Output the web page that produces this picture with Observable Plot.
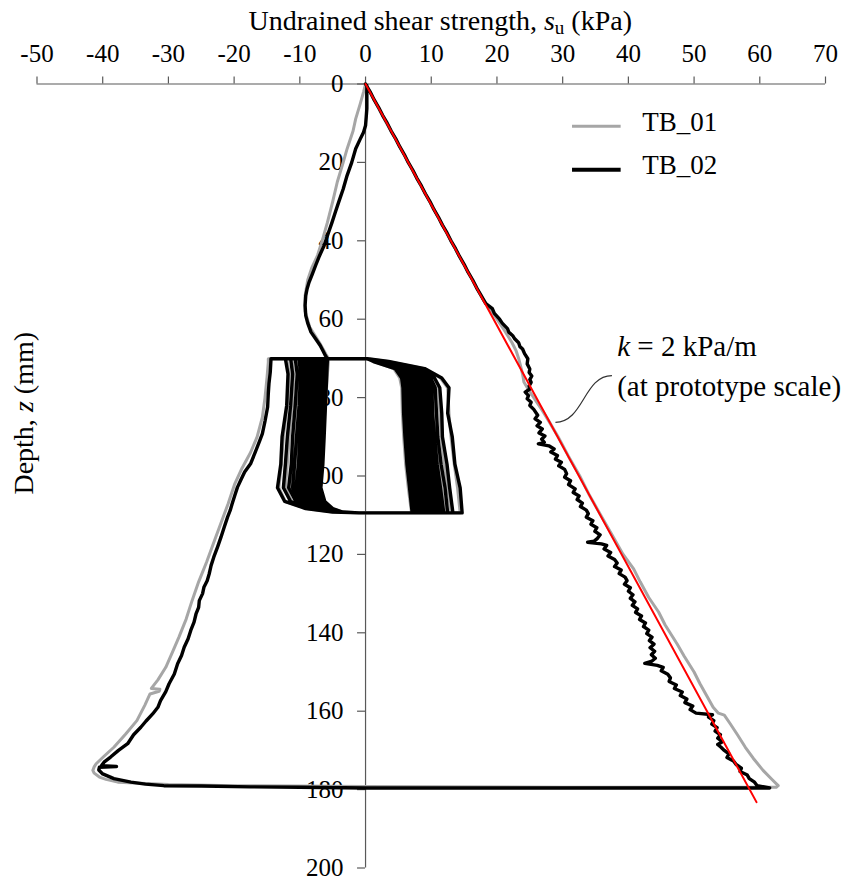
<!DOCTYPE html>
<html>
<head>
<meta charset="utf-8">
<script src="https://cdn.jsdelivr.net/npm/d3@7"></script>
<script src="https://cdn.jsdelivr.net/npm/@observablehq/plot@0.6"></script>
<style>
  html, body { margin: 0; padding: 0; background: #fff; }
  #chart svg { display: block; overflow: visible; }
  #chart svg text { font-family: "Liberation Serif", "Times New Roman", serif; }
</style>
</head>
<body>
<div id="chart"></div>
<script>
// Axis ticks
const xTicks = [-50, -40, -30, -20, -10, 0, 10, 20, 30, 40, 50, 60, 70];
const yTicks = [0, 20, 40, 60, 80, 100, 120, 140, 160, 180, 200];

// Series names
const seriesNames = ["TB_01", "TB_02"];

// Reference strength line, k = 2 kPa/m at prototype scale: [depth (mm), su (kPa)]
const referenceLine = [[0, 0], [183.2, 59.5]];

// TB_02: initial penetration [depth, su]
const tb02Penetration = [
  [0,0],[2,0.7],[4,1.3],[6,2.0],[8,2.6],[10,3.3],[12,3.9],[14,4.6],[16,5.2],[18,5.9],[20,6.5],
  [22,7.2],[24,7.8],[26,8.5],[28,9.1],[30,9.8],[32,10.4],[34,11.1],[36,11.7],[38,12.4],[40,13.0],
  [42,13.7],[44,14.3],[46,15.0],[48,15.6],[50,16.3],[52,16.9],[54,17.6],[56,18.3],[57.3,19.3],
  [58.5,19.6],[60,20.4],[61,20.8],[62.4,21.6],[63.3,21.8],[64.2,22.4],[65,22.7],[66,23.3],[67,23.5],
  [67.6,23.9],[68.8,24.2],[70.1,24.7],[71.4,24.6],[72.7,25.0],[73.6,24.9],[74.5,25.3],[75.4,25.0],
  [76.1,25.2],[77,24.9],[77.8,25.0],[78.6,24.3],[79.5,24.8],[80.3,24.6],[81.2,25.2],[82,25.0],
  [83,25.6],[84.5,26.2],[85.4,25.8],[86.3,26.6],[87.2,26.1],[88,26.9],[89,26.4],[89.8,27.3],
  [90.6,26.8],[91.4,27.2],[91.8,26.3],[92.3,27.9],[93.1,28.7],[93.9,28.2],[94.8,29.2],[95.7,28.9],
  [96.5,29.8],[97.4,29.4],[98.3,30.3],[99.4,30.6],[100.3,30.3],[101.2,31.2],[102.2,30.9],[103.3,31.9],
  [104.2,31.6],[105.1,32.5],[106,32.2],[106.9,33.0],[107.8,32.7],[108.7,33.6],[109.6,33.9],[110.5,33.6],
  [111.4,34.6],[112.3,34.3],[113.2,35.2],[114.1,34.9],[115,35.7],[115.9,35.3],[116.6,34.8],[116.9,33.8],
  [117.3,35.9],[117.7,36.7],[118.6,36.3],[119.5,37.3],[120.4,36.9],[121.3,37.9],[122.2,38.3],[123.1,37.9],
  [124,38.9],[124.9,38.6],[125.8,39.5],[126.7,39.8],[127.6,39.4],[128.5,40.3],[129.4,40.0],[130.3,40.7],
  [131.2,40.3],[132.1,41.0],[133,40.6],[133.9,41.4],[134.8,41.1],[135.7,42.0],[136.6,41.7],[137.5,42.6],
  [138.4,42.3],[139.3,43.1],[140.2,42.8],[141.1,43.6],[142,43.2],[142.9,43.9],[143.8,43.3],[144.7,44.0],
  [145.6,43.5],[146.5,44.1],[147.2,43.6],[147.8,42.5],[148.3,44.4],[148.8,45.3],[149.7,45.0],[150.6,46.0],
  [151.5,46.4],[152.4,46.2],[153.3,47.3],[154.2,47.0],[155.1,48.2],[156,47.9],[156.9,48.9],[157.8,48.6],
  [158.7,49.8],[159.6,49.4],[160.5,50.3],[160.9,52.8],[161.5,52.2],[162.4,53.0],[163.3,52.7],[164.2,53.5],
  [165.1,53.2],[166,54.0],[166.9,53.6],[167.8,54.3],[168.5,53.6],[169.2,54.1],[170,54.6],[170.9,55.3],
  [171.8,55.0],[172.7,56.0],[173.6,56.4],[174.5,57.2],[175.4,57.0],[176.3,58.1],[177.2,58.4],[178.1,59.2],
  [179,59.6],[179.6,61.5]
];

// TB_02: extraction from the tip back up to the top of the cyclic zone
const tb02Extraction = [
  [179.6,40],[179.6,20],[179.6,0],[179.4,-10],[179.3,-17.5],[179.1,-25],[179.0,-30.7],[178.6,-33.5],
  [178.1,-35.7],[177.2,-38.3],[176.0,-40.0],[175.0,-40.6],[174.3,-40.5],[174.1,-37.9],[173.9,-40.2],
  [173,-39.8],[171.7,-38.8],[170,-37.6],[168.3,-36.2],[166,-35.3],[164.1,-34.2],[162.5,-33.4],[160.7,-32.4],
  [159,-31.6],[157.3,-31.2],[155,-30.4],[153,-29.9],[150.5,-29.1],[147.9,-28.6],[145.8,-28.0],[143.7,-27.6],
  [141.5,-27.0],[139.4,-26.6],[137.3,-26.1],[135.2,-25.8],[133.5,-25.4],[131.8,-25.3],[130,-24.8],
  [128.4,-24.6],[126.7,-24.1],[125,-23.8],[122.8,-23.5],[120.7,-23.1],[118,-22.5],[115.6,-22.0],[113,-21.5],
  [110.5,-21.0],[108.8,-20.6],[107.1,-20.3],[105,-19.9],[102.9,-19.5],[101.1,-19.0],[99,-18.4],[96.9,-17.5],
  [94,-16.8],[91,-16.1],[89.2,-15.7],[86,-15.3],[82.4,-14.9],[79,-14.8],[76.5,-14.7],[73.5,-14.5],
  [70.5,-14.4],[70.1,-14.4]
];

// Depth stations of each cyclic stroke (mm)
const downDepths = [70.1, 70.8, 72.6, 75.0, 77.5, 84.0, 90.0, 97.0, 103.0, 109.4];
const upDepths = [109.4, 109.2, 108.3, 106.5, 103.0, 97.0, 90.0, 82.0, 74.0, 70.1];

// TB_02 cycles: su (kPa) at the stations above, [down stroke, up stroke]
const tb02Cycles = [
  [[0.3, 3.5, 9.0, 11.6, 12.7, 12.5, 13.2, 13.6, 14.4, 14.7], [-1.0, -5.0, -9.1, -12.3, -13.4, -12.9, -12.7, -12.0, -11.8, -12.2]],
  [[0.3, 3.2, 8.2, 10.5, 11.3, 11.6, 11.7, 12.4, 12.8, 13.3], [-1.0, -4.8, -8.7, -11.4, -12.5, -12.2, -11.9, -11.4, -11.1, -11.4]],
  [[0.3, 3.0, 7.8, 9.9, 10.6, 10.8, 11.0, 11.5, 12.1, 12.5], [-1.0, -4.6, -8.3, -10.6, -11.7, -11.3, -11.1, -10.7, -10.4, -10.7]],
  [[0.3, 2.8, 7.4, 9.4, 10.1, 10.2, 10.5, 10.9, 11.4, 11.9], [-1.0, -4.5, -8.0, -10.1, -11.1, -10.8, -10.5, -10.1, -9.9, -10.1]],
  [[0.3, 2.7, 7.1, 9.0, 9.6, 9.8, 10.0, 10.5, 10.9, 11.4], [-1.0, -4.4, -7.7, -9.6, -10.6, -10.2, -10.0, -9.6, -9.4, -9.6]],
  [[0.3, 2.6, 6.8, 8.6, 9.2, 9.3, 9.6, 10.0, 10.4, 10.9], [-1.0, -4.3, -7.4, -9.2, -10.1, -9.8, -9.5, -9.2, -9.0, -9.2]],
  [[0.3, 2.5, 6.6, 8.3, 8.8, 9.0, 9.2, 9.6, 10.0, 10.5], [-1.0, -4.2, -7.2, -8.8, -9.7, -9.3, -9.1, -8.8, -8.6, -8.8]],
  [[0.3, 2.4, 6.3, 8.0, 8.5, 8.6, 8.9, 9.3, 9.7, 10.2], [-1.0, -4.1, -7.0, -8.5, -9.4, -9.0, -8.8, -8.5, -8.3, -8.5]],
  [[0.3, 2.3, 6.1, 7.7, 8.2, 8.3, 8.5, 8.9, 9.3, 9.8], [-1.0, -4.0, -6.8, -8.2, -9.1, -8.7, -8.5, -8.2, -8.0, -8.2]],
  [[0.3, 2.2, 5.9, 7.4, 7.9, 8.0, 8.2, 8.6, 9.0, 9.5], [-1.0, -3.9, -6.6, -7.9, -8.8, -8.4, -8.2, -7.9, -7.7, -7.9]],
  [[0.3, 2.1, 5.7, 7.1, 7.6, 7.7, 7.9, 8.3, 8.7, 9.2], [-1.0, -3.8, -6.4, -7.7, -8.6, -8.2, -8.0, -7.7, -7.5, -7.6]],
  [[0.3, 2.0, 5.5, 6.9, 7.3, 7.4, 7.6, 8.0, 8.4, 8.9], [-1.0, -3.8, -6.2, -7.5, -8.3, -7.9, -7.7, -7.4, -7.2, -7.3]],
  [[0.3, 1.9, 5.3, 6.6, 7.0, 7.1, 7.3, 7.7, 8.1, 8.6], [-1.0, -3.7, -6.0, -7.3, -8.1, -7.7, -7.5, -7.2, -7.0, -7.1]],
  [[0.3, 1.8, 5.2, 6.4, 6.8, 6.9, 7.1, 7.5, 7.9, 8.4], [-1.0, -3.7, -5.9, -7.1, -7.9, -7.5, -7.3, -7.0, -6.8, -6.9]],
  [[0.3, 1.7, 5.0, 6.2, 6.6, 6.7, 6.9, 7.2, 7.6, 8.1], [-1.0, -3.6, -5.7, -6.9, -7.7, -7.3, -7.1, -6.8, -6.6, -6.7]],
  [[0.3, 1.6, 4.9, 6.0, 6.4, 6.5, 6.7, 7.0, 7.4, 7.9], [-1.0, -3.6, -5.6, -6.8, -7.5, -7.1, -6.9, -6.6, -6.4, -6.5]],
  [[0.3, 1.5, 4.8, 5.8, 6.2, 6.3, 6.5, 6.8, 7.2, 7.6], [-1.0, -3.5, -5.4, -6.6, -7.3, -7.0, -6.8, -6.4, -6.2, -6.3]],
  [[0.3, 1.4, 4.7, 5.7, 6.0, 6.1, 6.3, 6.6, 7.0, 7.4], [-1.0, -3.5, -5.3, -6.5, -7.1, -6.8, -6.6, -6.3, -6.1, -6.1]],
  [[0.3, 1.3, 4.6, 5.6, 5.8, 6.0, 6.2, 6.4, 6.8, 7.2], [-1.0, -3.5, -5.2, -6.3, -7.0, -6.7, -6.5, -6.2, -6.0, -6.0]],
  [[0.3, 1.2, 4.5, 5.5, 5.7, 5.8, 6.0, 6.3, 6.7, 7.1], [-1.0, -3.5, -5.0, -6.2, -6.8, -6.5, -6.3, -6.1, -5.9, -5.8]]
];

// TB_02: final extraction to the surface
const tb02Final = [
  [69.3,-6.1],[68,-6.5],[66.7,-6.9],[65,-7.6],[63.3,-8.3],[61,-8.8],[59.1,-9.1],[56.5,-9.2],[54,-9.1],
  [52.3,-8.9],[50.6,-8.6],[48.5,-8.1],[46.3,-7.6],[43.8,-7.0],[41.2,-6.3],[38.2,-5.7],[35.3,-5.1],
  [32.7,-4.6],[30.2,-4.1],[26.8,-3.4],[23.3,-2.8],[20,-2.1],[16.5,-1.5],[14,-0.8],[12.3,-0.3],
  [10.6,0.0],[8.5,0.1],[6.3,0.2],[3,0.2],[0.4,0.2]
];

// TB_01: initial penetration
const tb01Penetration = [
  [0,0],[5,1.6],[10,3.2],[15,4.9],[20,6.5],[25,8.1],[30,9.8],[35,11.4],[40,13.0],[45,14.6],[50,16.3],
  [55,17.9],[58,19.2],[60,20.0],[63,21.2],[66,22.3],[68,22.9],[70,23.3],[72,23.6],[74,23.9],[76,24.1],
  [78,24.8],[80,25.6],[83,26.8],[86,27.9],[90,29.3],[95,30.9],[100,32.6],[105,34.1],[110,35.8],
  [115,37.5],[120,39.2],[123.7,40.8],[127,41.8],[131,43.1],[134.7,44.6],[138,45.6],[142.8,47.4],
  [146,48.5],[150,50.0],[153,50.9],[156,51.9],[159,52.9],[160.5,53.7],[161,54.6],[163.2,55.5],
  [166,56.6],[169.2,57.8],[172,59.0],[175.1,60.5],[177.5,61.9],[179,62.8],[179.4,62.5]
];

// TB_01: extraction from the tip to the top of the cyclic zone
const tb01Extraction = [
  [179.4,30],[179.2,0],[179,-20],[178.7,-30],[178.1,-37.7],[177.4,-39.5],[176.8,-40.5],[175.8,-41.3],
  [175.1,-41.5],[174.2,-41.3],[173.4,-41.0],[171.5,-39.8],[169.2,-38.3],[165.8,-36.5],[162.4,-34.8],
  [158.5,-33.6],[155.6,-32.8],[154.9,-31.4],[154.4,-31.3],[154.2,-32.6],[152,-31.6],[148.8,-30.4],
  [145,-29.4],[141.1,-28.4],[136.5,-27.3],[131.8,-26.4],[127,-25.4],[122,-24.2],[116.5,-23.0],
  [112,-22.0],[107,-20.9],[102,-19.9],[98,-18.8],[94,-17.5],[90,-16.5],[85,-15.7],[80,-15.3],
  [75,-15.0],[71,-14.8],[70.1,-14.8]
];

// TB_01 cycles: su (kPa) at the stations, [down stroke, up stroke]
const tb01Cycles = [
  [[0.3, 3.4, 8.8, 11.4, 12.5, 12.7, 13.0, 13.5, 14.0, 14.4], [-1.0, -5.0, -9.0, -12.2, -13.2, -12.8, -12.5, -11.9, -11.6, -12.0]],
  [[0.3, 3.1, 8.0, 10.3, 11.1, 11.3, 11.5, 12.0, 12.5, 13.0], [-1.0, -4.8, -8.6, -11.2, -12.2, -11.9, -11.6, -11.1, -10.9, -11.2]],
  [[0.3, 2.9, 7.5, 9.6, 10.3, 10.5, 10.7, 11.2, 11.6, 12.1], [-1.0, -4.6, -8.1, -10.4, -11.4, -11.0, -10.8, -10.4, -10.1, -10.4]],
  [[0.3, 2.7, 7.1, 9.0, 9.7, 9.9, 10.1, 10.5, 10.9, 11.4], [-1.0, -4.4, -7.8, -9.8, -10.8, -10.4, -10.2, -9.8, -9.6, -9.8]],
  [[0.3, 2.5, 6.7, 8.5, 9.1, 9.3, 9.5, 9.9, 10.3, 10.8], [-1.0, -4.2, -7.4, -9.2, -10.1, -9.8, -9.5, -9.2, -9.0, -9.2]],
  [[0.3, 2.4, 6.3, 8.0, 8.6, 8.8, 9.0, 9.4, 9.8, 10.3], [-1.0, -4.1, -7.1, -8.7, -9.6, -9.3, -9.0, -8.7, -8.5, -8.7]],
  [[0.3, 2.2, 6.0, 7.6, 8.1, 8.3, 8.5, 8.9, 9.3, 9.8], [-1.0, -4.0, -6.8, -8.3, -9.1, -8.8, -8.6, -8.3, -8.1, -8.2]],
  [[0.3, 2.1, 5.7, 7.2, 7.7, 7.8, 8.0, 8.4, 8.8, 9.3], [-1.0, -3.9, -6.5, -7.9, -8.7, -8.4, -8.2, -7.9, -7.7, -7.8]],
  [[0.3, 2.0, 5.4, 6.8, 7.2, 7.3, 7.5, 7.9, 8.3, 8.8], [-1.0, -3.8, -6.2, -7.5, -8.3, -8.0, -7.8, -7.5, -7.3, -7.4]],
  [[0.3, 1.8, 5.1, 6.4, 6.8, 6.9, 7.1, 7.4, 7.8, 8.3], [-1.0, -3.7, -5.9, -7.1, -7.9, -7.6, -7.4, -7.1, -6.9, -7.0]],
  [[0.3, 1.6, 4.8, 6.0, 6.3, 6.4, 6.6, 6.9, 7.3, 7.8], [-1.0, -3.6, -5.6, -6.8, -7.5, -7.2, -7.0, -6.7, -6.5, -6.5]],
  [[0.3, 1.3, 4.3, 5.2, 5.5, 5.6, 5.8, 6.1, 6.5, 7.0], [-1.0, -3.4, -5.2, -6.3, -7.0, -6.7, -6.5, -6.1, -5.8, -5.6]]
];

// TB_01: final extraction to the surface
const tb01Final = [
  [69,-6.0],[66,-7.0],[62,-8.5],[58,-9.2],[54,-9.2],[50,-8.8],[47,-8.2],[43.7,-7.3],[40,-6.6],
  [35.3,-5.8],[30,-5.0],[25,-4.3],[20,-3.4],[16.5,-2.8],[12,-1.9],[8.9,-1.5],[5,-0.8],[2,-0.3],[0,0]
];

// Assemble a continuous test record from its segments
function toPoints(pairs) {
  return pairs.map(([z, su]) => ({z, su}));
}
function cyclePoints(cycles) {
  const pts = [];
  for (const [down, up] of cycles) {
    down.forEach((su, j) => pts.push({z: downDepths[j], su}));
    up.forEach((su, j) => pts.push({z: upDepths[j], su}));
  }
  return pts;
}
const tb01 = [
  ...toPoints(tb01Penetration), ...toPoints(tb01Extraction),
  ...cyclePoints(tb01Cycles), ...toPoints(tb01Final)
];
const tb02 = [
  ...toPoints(tb02Penetration), ...toPoints(tb02Extraction),
  ...cyclePoints(tb02Cycles), ...toPoints(tb02Final)
];
const refPts = toPoints(referenceLine);

const serif = "Liberation Serif, Times New Roman, serif";
const axisColor = "#595959";
const grey = "#A6A6A6";
const TITLE = "Undrained shear strength, su (kPa)";
const YLABEL = "Depth, z (mm)";
const NOTE1 = "k = 2 kPa/m";
const NOTE2 = "(at prototype scale)";

const chart = Plot.plot({
  width: 851,
  height: 883,
  marginLeft: 36.5,
  marginRight: 26,
  marginTop: 83.5,
  marginBottom: 15.5,
  style: {fontFamily: serif, fontSize: "25px", color: "#000", background: "#fff"},
  x: {domain: [-50, 70], axis: null},
  y: {domain: [0, 200], reverse: true, axis: null},
  marks: [
    // top (x) axis: line, upward ticks and labels
    Plot.ruleY([0], {stroke: axisColor, strokeWidth: 1.2}),
    Plot.ruleX(xTicks, {x: d => d, y1: 0, y2: 0, insetBottom: 7, stroke: axisColor, strokeWidth: 1.2}),
    Plot.text(xTicks, {x: d => d, y: 0, text: d => String(d), dy: -30, lineAnchor: "middle", fontSize: 25, fontFamily: serif}),
    // depth axis through su = 0
    Plot.ruleX([0], {stroke: axisColor, strokeWidth: 1.2}),
    Plot.ruleY(yTicks, {y: d => d, x1: 0, x2: 0, insetLeft: -8, stroke: axisColor, strokeWidth: 1.2}),
    Plot.text(yTicks, {x: 0, y: d => d, text: d => String(d), textAnchor: "end", dx: -22, fontSize: 25, fontFamily: serif, lineAnchor: "middle"}),
    // test records
    Plot.line(tb01, {x: "su", y: "z", stroke: grey, strokeWidth: 3}),
    Plot.line(tb02, {x: "su", y: "z", stroke: "#000", strokeWidth: 3.4}),
    Plot.line(refPts, {x: "su", y: "z", stroke: "#FF0000", strokeWidth: 2}),
    // annotation with leader
    Plot.link([NOTE1], {x1: 28.9, y1: 86.3, x2: 37.5, y2: 74.4, curve: "bump-x", stroke: "#333", strokeWidth: 1.2}),
    Plot.text([NOTE1], {x: 38.3, y: 67.1, text: d => d, textAnchor: "start", lineAnchor: "middle", fontSize: 29, fontFamily: serif}),
    Plot.text([NOTE2], {x: 38.3, y: 77.3, text: d => d, textAnchor: "start", lineAnchor: "middle", fontSize: 29, fontFamily: serif}),
    // legend
    Plot.ruleY([10.8], {x1: 31.5, x2: 38.9, stroke: grey, strokeWidth: 3}),
    Plot.ruleY([21.9], {x1: 31.5, x2: 38.9, stroke: "#000", strokeWidth: 4}),
    Plot.text([seriesNames[0]], {x: 42.1, y: 10.8, text: d => d, textAnchor: "start", lineAnchor: "middle", dy: -4, fontSize: 27, fontFamily: serif}),
    Plot.text([seriesNames[1]], {x: 42.1, y: 21.9, text: d => d, textAnchor: "start", lineAnchor: "middle", dy: -4, fontSize: 27, fontFamily: serif}),
    // axis titles
    Plot.text([TITLE], {frameAnchor: "top", text: d => d, dx: 9, dy: -63, lineAnchor: "middle", fontSize: 28, fontFamily: serif}),
    Plot.text([YLABEL], {x: -50, y: 84, text: d => d, rotate: -90, dx: -13, lineAnchor: "middle", fontSize: 28, fontFamily: serif})
  ]
});

// Italic symbols and the subscript in the titles
function restyle(el, parts) {
  const s = d3.select(el);
  s.text(null);
  for (const p of parts) {
    const t = s.append("tspan").text(p.text);
    if (p.italic) t.attr("font-style", "italic");
    if (p.dy) t.attr("dy", p.dy);
    if (p.size) t.attr("font-size", p.size);
  }
}
d3.select(chart).selectAll("text").each(function() {
  const t = this.textContent;
  if (t === TITLE) {
    restyle(this, [
      {text: "Undrained shear strength, "},
      {text: "s", italic: true},
      {text: "u", dy: 4, size: 19},
      {text: " (kPa)", dy: -4}
    ]);
  } else if (t === YLABEL) {
    restyle(this, [{text: "Depth, "}, {text: "z", italic: true}, {text: " (mm)"}]);
  } else if (t === NOTE1) {
    restyle(this, [{text: "k", italic: true}, {text: " = 2 kPa/m"}]);
  }
});

document.getElementById("chart").appendChild(chart);
</script>
</body>
</html>
